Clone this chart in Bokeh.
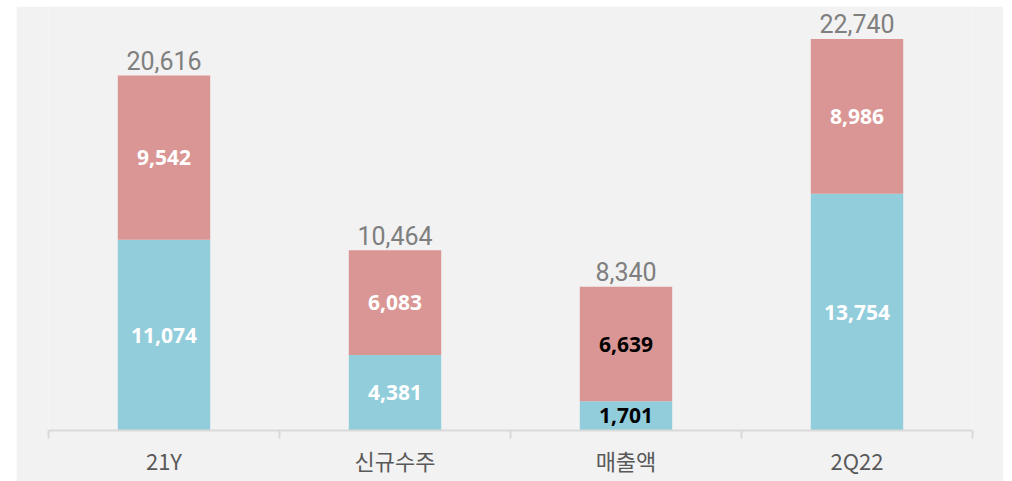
from bokeh.plotting import figure
from bokeh.models import ColumnDataSource, FixedTicker, Range1d, Spacer
from bokeh.layouts import column, row
from bokeh.embed import file_html
from bokeh.resources import INLINE
from bokeh.core.properties import value

categories = ["21Y", "신규수주", "매출액", "2Q22"]
blue_vals = [11074, 4381, 1701, 13754]
pink_vals = [9542, 6083, 6639, 8986]
totals = [20616, 10464, 8340, 22740]
blue_label_colors = ["white", "white", "black", "white"]
pink_label_colors = ["white", "white", "black", "white"]

BLUE = "#92cddc"
PINK = "#da9694"
BG = "#f2f2f2"

xs = [i + 0.5 for i in range(len(categories))]
src = ColumnDataSource(dict(
    x=xs,
    blue=blue_vals,
    pink=pink_vals,
    blue_mid=[b / 2 for b in blue_vals],
    pink_mid=[b + p / 2 for b, p in zip(blue_vals, pink_vals)],
    pink_top=[b + p for b, p in zip(blue_vals, pink_vals)],
    total=totals,
    blue_txt=[f"{v:,}" for v in blue_vals],
    pink_txt=[f"{v:,}" for v in pink_vals],
    total_txt=[f"{v:,}" for v in totals],
    blue_col=blue_label_colors,
    pink_col=pink_label_colors,
))

p = figure(width=987, height=475, output_backend="svg", toolbar_location=None,
           x_range=Range1d(0, len(categories)), y_range=Range1d(0, 24620),
           min_border_left=32, min_border_right=31, min_border_top=0,
           min_border_bottom=51)
p.background_fill_color = BG
p.border_fill_color = BG
p.outline_line_color = None
p.grid.visible = False
p.yaxis.visible = False

p.vbar(x="x", width=0.4, bottom=0, top="blue", color=BLUE, line_color=None, source=src)
p.vbar(x="x", width=0.4, bottom="blue", top="pink_top", color=PINK, line_color=None, source=src)

p.text(x="x", y="blue_mid", text="blue_txt", text_color="blue_col", source=src,
       text_align="center", text_baseline="middle", text_font=value("Open Sans"),
       text_font_style="bold", text_font_size="21px")
p.text(x="x", y="pink_mid", text="pink_txt", text_color="pink_col", source=src,
       text_align="center", text_baseline="middle", text_font=value("Open Sans"),
       text_font_style="bold", text_font_size="21px")
p.text(x="x", y="total", text="total_txt", text_color="#7f7f7f", source=src,
       text_align="center", text_baseline="alphabetic", y_offset=-15,
       text_font=value("Roboto"), text_font_size="25px")

ax = p.xaxis[0]
ax.ticker = FixedTicker(ticks=xs, minor_ticks=[0, 1, 2, 3, 4])
ax.major_label_overrides = {x: c for x, c in zip(xs, categories)}
ax.major_tick_out = 0
ax.major_tick_in = 0
ax.minor_tick_out = 8
ax.minor_tick_in = 0
ax.minor_tick_line_color = "#d9d9d9"
ax.minor_tick_line_width = 2
ax.axis_line_color = "#d9d9d9"
ax.axis_line_width = 2
ax.major_label_text_font = "Noto Sans CJK KR"
ax.major_label_text_font_size = "22px"
ax.major_label_text_color = "#595959"
ax.major_label_standoff = 5

layout = column(Spacer(height=6), row(Spacer(width=16), p))
open("out.html", "w").write(file_html(layout, INLINE))
